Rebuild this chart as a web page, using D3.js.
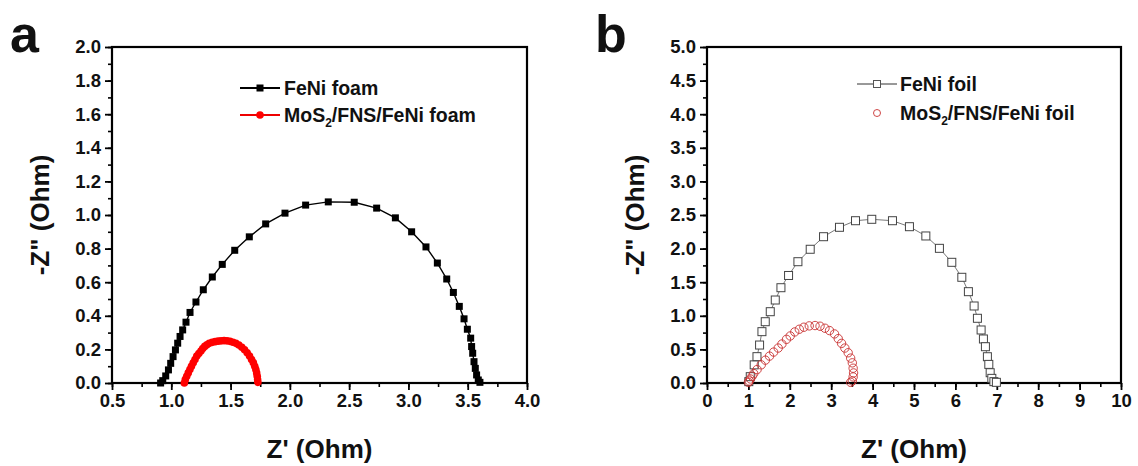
<!DOCTYPE html>
<html>
<head>
<meta charset="utf-8">
<script src="https://cdn.jsdelivr.net/npm/d3@7"></script>
<style>
  html, body { margin: 0; padding: 0; background: #fff; }
  svg { display: block; font-family: "Liberation Sans", Arial, sans-serif; font-weight: bold; }
</style>
</head>
<body>
<svg id="chart" width="1138" height="466"></svg>
<script>
// Nyquist plots: (a) FeNi foam electrodes, (b) FeNi foil electrodes.
// Each series is a list of [Z', -Z''] pairs in Ohm.

const feniFoam = [
  [0.91, 0.0], [0.928, 0.014], [0.953, 0.042], [0.976, 0.078], [0.995, 0.117],
  [1.015, 0.157], [1.035, 0.197], [1.054, 0.237], [1.074, 0.277], [1.096, 0.316],
  [1.124, 0.362], [1.158, 0.42], [1.208, 0.482], [1.27, 0.555], [1.346, 0.631],
  [1.43, 0.706], [1.535, 0.79], [1.658, 0.87], [1.796, 0.947], [1.959, 1.011],
  [2.133, 1.059], [2.324, 1.078], [2.543, 1.076], [2.732, 1.041], [2.89, 0.983],
  [3.027, 0.9], [3.148, 0.81], [3.244, 0.714], [3.323, 0.619], [3.379, 0.539],
  [3.429, 0.456], [3.469, 0.382], [3.497, 0.32], [3.525, 0.267], [3.533, 0.217],
  [3.542, 0.177], [3.553, 0.127], [3.564, 0.087], [3.575, 0.048], [3.589, 0.018],
  [3.603, 0.004]
];

const mosFoam = [
  [1.11, 0.0], [1.118, 0.02], [1.13, 0.04], [1.143, 0.06], [1.157, 0.08],
  [1.17, 0.1], [1.185, 0.12], [1.2, 0.14], [1.215, 0.16], [1.232, 0.175],
  [1.25, 0.19], [1.265, 0.205], [1.282, 0.218], [1.3, 0.228], [1.32, 0.236],
  [1.345, 0.242], [1.37, 0.246], [1.395, 0.249], [1.42, 0.251], [1.445, 0.252],
  [1.47, 0.251], [1.495, 0.248], [1.52, 0.243], [1.545, 0.236], [1.57, 0.226],
  [1.595, 0.213], [1.618, 0.198], [1.64, 0.18], [1.66, 0.16], [1.677, 0.14],
  [1.692, 0.12], [1.704, 0.1], [1.713, 0.08], [1.72, 0.06], [1.725, 0.04],
  [1.728, 0.02], [1.73, 0.004]
];

const feniFoil = [
  [1.01, 0.02], [1.045, 0.094], [1.14, 0.27], [1.207, 0.392], [1.27, 0.565],
  [1.327, 0.764], [1.407, 0.912], [1.528, 1.061], [1.649, 1.235], [1.786, 1.418],
  [1.97, 1.6], [2.196, 1.805], [2.493, 1.99], [2.815, 2.177], [3.2, 2.317],
  [3.587, 2.415], [3.98, 2.436], [4.48, 2.415], [4.89, 2.326], [5.286, 2.188],
  [5.614, 2.004], [5.913, 1.796], [6.155, 1.573], [6.314, 1.359], [6.452, 1.146],
  [6.532, 0.963], [6.621, 0.789], [6.677, 0.655], [6.725, 0.54], [6.773, 0.391],
  [6.807, 0.277], [6.84, 0.153], [6.88, 0.069], [6.93, 0.02], [6.99, 0.01]
];

const mosFoil = [
  [1.0, 0.01], [1.02, 0.03], [1.05, 0.06], [1.09, 0.1], [1.13, 0.14],
  [1.21, 0.2], [1.31, 0.27], [1.41, 0.34], [1.51, 0.4], [1.61, 0.46],
  [1.72, 0.52], [1.81, 0.58], [1.92, 0.65], [2.01, 0.7], [2.12, 0.76],
  [2.23, 0.8], [2.34, 0.83], [2.47, 0.85], [2.61, 0.855], [2.73, 0.845],
  [2.85, 0.815], [2.96, 0.78], [3.08, 0.73], [3.17, 0.66], [3.25, 0.59],
  [3.33, 0.52], [3.41, 0.45], [3.47, 0.37], [3.51, 0.3], [3.53, 0.22],
  [3.54, 0.15], [3.53, 0.09], [3.51, 0.03], [3.47, 0.01]
];

// Tick values for each axis
const xTicksA = [0.5, 1.0, 1.5, 2.0, 2.5, 3.0, 3.5, 4.0];
const yTicksA = [0.0, 0.2, 0.4, 0.6, 0.8, 1.0, 1.2, 1.4, 1.6, 1.8, 2.0];
const xTicksB = [0, 1, 2, 3, 4, 5, 6, 7, 8, 9, 10];
const yTicksB = [0.0, 0.5, 1.0, 1.5, 2.0, 2.5, 3.0, 3.5, 4.0, 4.5, 5.0];

const svg = d3.select("#chart");
const FONT = "Liberation Sans, Arial, sans-serif";

function panel(cfg) {
  const g = svg.append("g");
  const x = d3.scaleLinear().domain(cfg.xDomain).range([cfg.left, cfg.right]);
  const y = d3.scaleLinear().domain(cfg.yDomain).range([cfg.bottom, cfg.top]);

  // Minor ticks
  const xMinor = d3.range(cfg.xDomain[0], cfg.xDomain[1] + 1e-9, cfg.xMinorStep);
  const yMinor = d3.range(cfg.yDomain[0], cfg.yDomain[1] + 1e-9, cfg.yMinorStep);
  g.append("g").attr("transform", `translate(0,${cfg.bottom})`)
    .call(d3.axisBottom(x).tickValues(xMinor).tickSize(4).tickSizeOuter(0).tickFormat(""))
    .call(s => s.select(".domain").remove())
    .call(s => s.selectAll("line").attr("stroke-width", 1.6));
  g.append("g").attr("transform", `translate(${cfg.left},0)`)
    .call(d3.axisLeft(y).tickValues(yMinor).tickSize(4).tickSizeOuter(0).tickFormat(""))
    .call(s => s.select(".domain").remove())
    .call(s => s.selectAll("line").attr("stroke-width", 1.6));

  // Major ticks and labels
  g.append("g").attr("transform", `translate(0,${cfg.bottom})`)
    .call(d3.axisBottom(x).tickValues(cfg.xTicks).tickSize(7).tickSizeOuter(0).tickPadding(4).tickFormat(cfg.xFormat))
    .call(s => s.select(".domain").remove())
    .call(s => s.selectAll("line").attr("stroke-width", 1.8))
    .call(s => s.selectAll("text").attr("font-size", 18.5).attr("font-weight", "bold")
      .attr("font-family", FONT).attr("fill", "#111"));
  g.append("g").attr("transform", `translate(${cfg.left},0)`)
    .call(d3.axisLeft(y).tickValues(cfg.yTicks).tickSize(7).tickSizeOuter(0).tickPadding(4).tickFormat(d3.format(".1f")))
    .call(s => s.select(".domain").remove())
    .call(s => s.selectAll("line").attr("stroke-width", 1.8))
    .call(s => s.selectAll("text").attr("font-size", 18.5).attr("font-weight", "bold")
      .attr("font-family", FONT).attr("fill", "#111"));

  // Frame
  g.append("rect")
    .attr("x", cfg.left).attr("y", cfg.top)
    .attr("width", cfg.right - cfg.left).attr("height", cfg.bottom - cfg.top)
    .attr("fill", "none").attr("stroke", "#000").attr("stroke-width", 2.2);

  // Axis titles
  g.append("text")
    .attr("x", (cfg.left + cfg.right) / 2).attr("y", 458)
    .attr("text-anchor", "middle").attr("font-size", 26).attr("fill", "#111")
    .text("Z' (Ohm)");
  g.append("text")
    .attr("transform", `translate(${cfg.left - 63},${(cfg.top + cfg.bottom) / 2}) rotate(-90)`)
    .attr("text-anchor", "middle").attr("font-size", 26).attr("fill", "#111")
    .text("-Z\" (Ohm)");

  // Panel letter
  g.append("text")
    .attr("x", cfg.letterX).attr("y", 52)
    .attr("font-size", 52).attr("fill", "#111")
    .text(cfg.letter);

  return { g, x, y };
}

// ---- Panel a ----
const pa = panel({
  left: 112, right: 527, top: 47, bottom: 383,
  xDomain: [0.5, 4.0], yDomain: [0, 2.0],
  xTicks: xTicksA, yTicks: yTicksA,
  xMinorStep: 0.25, yMinorStep: 0.1,
  xFormat: d3.format(".1f"), letter: "a", letterX: 10
});

const lineA = d3.line().x(d => pa.x(d[0])).y(d => pa.y(d[1]));

pa.g.append("path").datum(feniFoam).attr("d", lineA)
  .attr("fill", "none").attr("stroke", "#000").attr("stroke-width", 1.4);
pa.g.append("g").selectAll("rect").data(feniFoam).join("rect")
  .attr("x", d => pa.x(d[0]) - 3.5).attr("y", d => pa.y(d[1]) - 3.5)
  .attr("width", 7).attr("height", 7).attr("fill", "#000");

pa.g.append("path").datum(mosFoam).attr("d", lineA)
  .attr("fill", "none").attr("stroke", "#f00").attr("stroke-width", 1.4);
pa.g.append("g").selectAll("circle").data(mosFoam).join("circle")
  .attr("cx", d => pa.x(d[0])).attr("cy", d => pa.y(d[1]))
  .attr("r", 3.8).attr("fill", "#f00");

// Legend a
const legA = pa.g.append("g");
legA.append("line").attr("x1", 240).attr("x2", 280).attr("y1", 88).attr("y2", 88)
  .attr("stroke", "#000").attr("stroke-width", 2);
legA.append("rect").attr("x", 256.5).attr("y", 84.5).attr("width", 7).attr("height", 7).attr("fill", "#000");
legA.append("text").attr("x", 284).attr("y", 95).attr("font-size", 19.5).attr("fill", "#111").text("FeNi foam");
legA.append("line").attr("x1", 240).attr("x2", 280).attr("y1", 115).attr("y2", 115)
  .attr("stroke", "#e00").attr("stroke-width", 2);
legA.append("circle").attr("cx", 260).attr("cy", 115).attr("r", 3.8).attr("fill", "#f00");
const tA = legA.append("text").attr("x", 284).attr("y", 122).attr("font-size", 19.5).attr("fill", "#111");
tA.append("tspan").text("MoS");
tA.append("tspan").attr("font-size", 12).attr("dy", 5).text("2");
tA.append("tspan").attr("dy", -5).text("/FNS/FeNi foam");

// ---- Panel b ----
const pb = panel({
  left: 707, right: 1121, top: 47, bottom: 383,
  xDomain: [0, 10], yDomain: [0, 5.0],
  xTicks: xTicksB, yTicks: yTicksB,
  xMinorStep: 0.5, yMinorStep: 0.25,
  xFormat: d3.format("d"), letter: "b", letterX: 595
});

const lineB = d3.line().x(d => pb.x(d[0])).y(d => pb.y(d[1]));

pb.g.append("path").datum(feniFoil).attr("d", lineB)
  .attr("fill", "none").attr("stroke", "#555").attr("stroke-width", 0.8);
pb.g.append("g").selectAll("rect").data(feniFoil).join("rect")
  .attr("x", d => pb.x(d[0]) - 4).attr("y", d => pb.y(d[1]) - 4)
  .attr("width", 8).attr("height", 8).attr("fill", "#fff")
  .attr("stroke", "#444").attr("stroke-width", 1);

pb.g.append("g").selectAll("circle").data(mosFoil).join("circle")
  .attr("cx", d => pb.x(d[0])).attr("cy", d => pb.y(d[1]))
  .attr("r", 4.2).attr("fill", "none")
  .attr("stroke", "#c83232").attr("stroke-width", 0.9);

// Legend b
const legB = pb.g.append("g");
legB.append("line").attr("x1", 857).attr("x2", 897).attr("y1", 84).attr("y2", 84)
  .attr("stroke", "#333").attr("stroke-width", 1);
legB.append("rect").attr("x", 873.5).attr("y", 80.5).attr("width", 7).attr("height", 7)
  .attr("fill", "#fff").attr("stroke", "#555").attr("stroke-width", 1);
legB.append("text").attr("x", 900).attr("y", 91).attr("font-size", 19.5).attr("fill", "#111").text("FeNi foil");
legB.append("circle").attr("cx", 877).attr("cy", 113).attr("r", 3.5)
  .attr("fill", "none").attr("stroke", "#c83232").attr("stroke-width", 0.9);
const tB = legB.append("text").attr("x", 900).attr("y", 120).attr("font-size", 19.5).attr("fill", "#111");
tB.append("tspan").text("MoS");
tB.append("tspan").attr("font-size", 12).attr("dy", 5).text("2");
tB.append("tspan").attr("dy", -5).text("/FNS/FeNi foil");
</script>
</body>
</html>
